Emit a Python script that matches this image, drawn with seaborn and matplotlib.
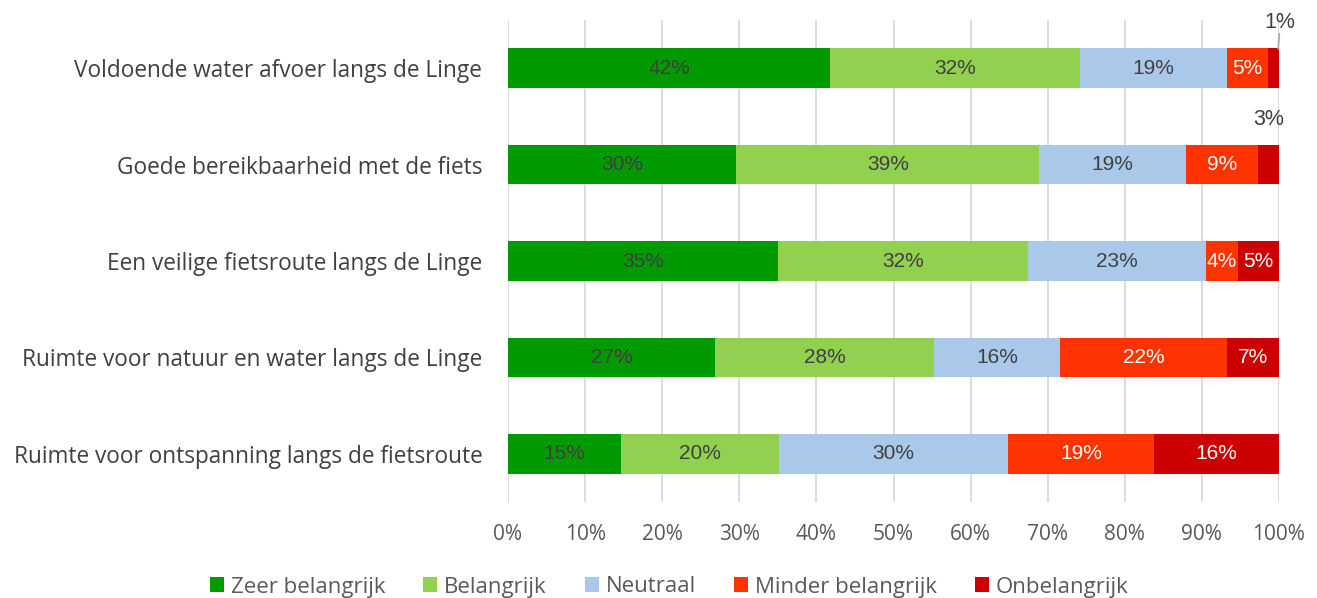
import numpy as np
import pandas as pd
import matplotlib.pyplot as plt
import seaborn as sns
from matplotlib.patches import Patch

# data (percent per answer)
categories = [
    "Voldoende water afvoer langs de Linge",
    "Goede bereikbaarheid met de fiets",
    "Een veilige fietsroute langs de Linge",
    "Ruimte voor natuur en water langs de Linge",
    "Ruimte voor ontspanning langs de fietsroute",
]
series = ["Zeer belangrijk", "Belangrijk", "Neutraal", "Minder belangrijk", "Onbelangrijk"]
zeer = [41.8, 29.6, 35.0, 26.9, 14.7]
belangrijk = [32.4, 39.3, 32.4, 28.4, 20.4]
neutraal = [19.0, 19.0, 23.1, 16.3, 29.8]
minder = [5.4, 9.4, 4.2, 21.7, 18.9]
onbelangrijk = [1.4, 2.7, 5.3, 6.7, 16.2]
tick_labels = [f"{v}%" for v in range(0, 101, 10)]

colors = ["#009900", "#92D050", "#A9C8EA", "#FF3300", "#CC0000"]
text_colors = ["#404040", "#404040", "#404040", "white", "white"]

sns.set_style("white")
plt.rcParams["font.family"] = ["Open Sans", "DejaVu Sans"]

df = pd.DataFrame({"categorie": categories, "Zeer belangrijk": zeer, "Belangrijk": belangrijk,
                   "Neutraal": neutraal, "Minder belangrijk": minder, "Onbelangrijk": onbelangrijk})
cum = df[series].cumsum(axis=1)

fig = plt.figure(figsize=(13.17, 5.98), dpi=100)
ax = fig.add_axes([508 / 1317, 1 - 502 / 598, 771 / 1317, 482 / 598])

# grid lines behind the bars
for v in range(0, 101, 10):
    ax.axvline(v, color="#D9D9D9", lw=1.3, zorder=0)

# stacked bars: draw cumulative totals from the last series to the first
for k in reversed(range(len(series))):
    sns.barplot(x=cum[series[k]], y=df["categorie"], color=colors[k], orient="h",
                width=0.41, ax=ax, zorder=2, linewidth=0, saturation=1)

# value labels
for i in range(len(categories)):
    for k, s in enumerate(series):
        val = df.loc[i, s]
        end = cum.loc[i, s]
        lab = f"{round(val)}%"
        if val < 3:
            # small segment: label above the bar end
            ax.text(end - val / 2 + (0.8 if val < 2 else 0), i - 0.47, lab, ha="center",
                    va="center", fontsize=15.5, color="#404040", family="Liberation Sans")
            if val < 2:
                ax.plot([end - 0.1, end + 0.05], [i - 0.2, i - 0.36], color="#A6A6A6", lw=1.2,
                        zorder=3, clip_on=False)
            continue
        ax.text(end - val / 2, i, lab, ha="center", va="center", fontsize=15,
                color=text_colors[k], family="Liberation Sans", zorder=4)

ax.set_xlim(0, 100)
ax.set_ylim(4.5, -0.5)
ax.set_xticks(range(0, 101, 10))
ax.set_xticklabels(tick_labels, fontsize=15, color="#595959")
ax.tick_params(axis="y", labelsize=16.3, colors="#404040", length=0, pad=18.5)
ax.tick_params(axis="x", length=0, pad=15.5)
ax.set_xlabel("")
ax.set_ylabel("")
for sp in ax.spines.values():
    sp.set_visible(False)

handles = [Patch(facecolor=c, edgecolor="none") for c in colors]
fig.legend(handles, series, loc="center", bbox_to_anchor=(669 / 1317, 1 - 587 / 598), ncol=5,
           frameon=False, fontsize=16, labelcolor="#595959", handlelength=0.65, handleheight=0.65,
           handletextpad=0.3, columnspacing=1.7)

fig.savefig("out.png", dpi=100)
